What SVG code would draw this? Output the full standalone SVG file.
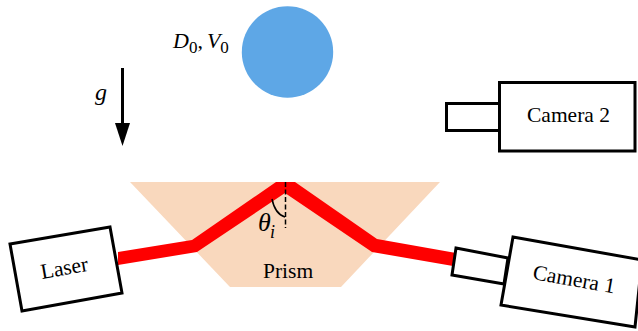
<svg xmlns="http://www.w3.org/2000/svg" width="638" height="331" viewBox="0 0 638 331">
<style>
.o{fill:#fff;stroke:#000;stroke-width:3;stroke-linejoin:miter}
text{font-family:"Liberation Serif","Times New Roman",serif;fill:#000}
.l{font-size:21.500px}
.i{font-style:italic}
</style>
<rect width="638" height="331" fill="#fff"/>
<g id="prism"><polygon points="130,182 440,182 341,287 230,287" fill="#f9d8bd"/><text class="l" x="263" y="278">Prism</text></g>
<g id="droplet"><circle cx="287.500" cy="52" r="45.700" fill="#5ea7e6"/><text x="173" y="48" font-size="22" class="i">D<tspan font-size="17" dy="5" font-style="normal">0</tspan><tspan dy="-5" font-style="normal">,</tspan><tspan dx="4">V</tspan><tspan font-size="17" dy="5" font-style="normal">0</tspan></text></g>
<g id="connectors">
<polygon points="118,252 192,240 276,182 295,182 377,239 456,253 453,266 372,252 285,193 197,252 118,265" fill="#fe0000"/>
<line x1="285.500" y1="182" x2="285.500" y2="228" stroke="#000" stroke-width="1.500" stroke-dasharray="5 2.500"/>
<path d="M272 199Q275 214 285 217" fill="none" stroke="#000" stroke-width="1.500"/>
<line x1="122.500" y1="68" x2="122.500" y2="124" stroke="#000" stroke-width="3"/>
<polygon points="115,123 130,123 122.500,146"/>
</g>
<g id="angle"><text x="258" y="231" font-size="26" class="i">θ</text><text x="270" y="238" font-size="18" class="i">i</text></g>
<g id="gravity"><text x="95" y="100" font-size="24" class="i">g</text></g>
<g id="laser"><polygon class="o" points="10,244 110,227 122,293 22,311"/><text class="l" transform="translate(42 279) rotate(-10)">Laser</text></g>
<g id="camera1"><polygon class="o" points="456,248 508,258 504,284 452,275"/><polygon class="o" points="513,237 642,260 635,327 501,305"/><text class="l" transform="translate(532 279) rotate(10)">Camera 1</text></g>
<g id="camera2"><rect class="o" x="446.500" y="103.500" width="53" height="27"/><rect class="o" x="499.500" y="82.500" width="135.500" height="68.500"/><text class="l" x="527" y="122">Camera 2</text></g>
</svg>
